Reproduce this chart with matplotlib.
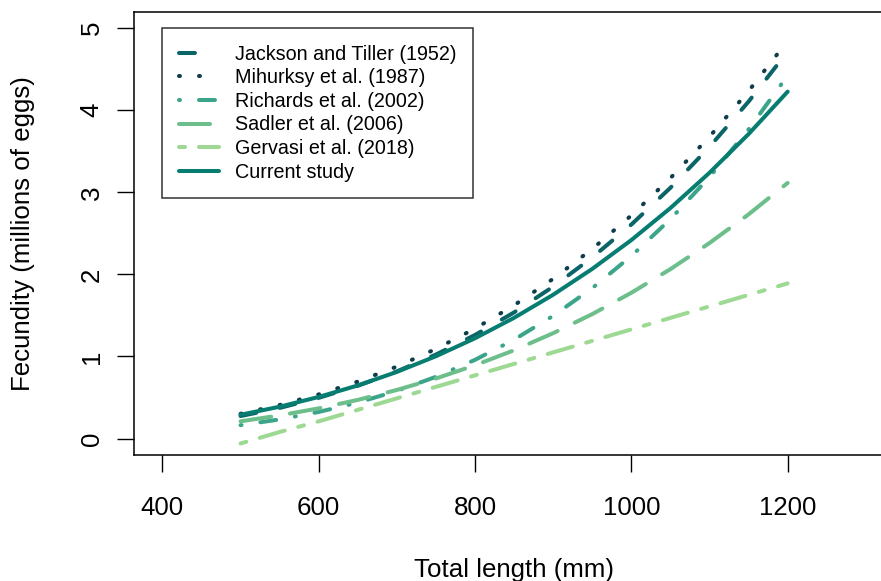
import matplotlib
matplotlib.use("Agg")
import matplotlib.pyplot as plt
import numpy as np

# =============================================================================
# data (fecundity in millions of eggs)
# =============================================================================
length_mm = [500, 550, 600, 650, 700, 750, 800, 850, 900, 950, 1000, 1050, 1100, 1150, 1200]

jackson = [0.274, 0.373, 0.496, 0.643, 0.818, 1.023, 1.262, 1.537, 1.851, 2.206,
           2.607, 3.055, 3.553, 4.105, 4.714]
mihursky = [0.302, 0.409, 0.538, 0.694, 0.877, 1.092, 1.340, 1.624, 1.946, 2.310,
            2.718, 3.173, 3.677, 4.233, 4.845]
richards = [0.163, 0.233, 0.324, 0.438, 0.580, 0.752, 0.959, 1.205, 1.495, 1.833,
            2.224, 2.673, 3.185, 3.766, 4.422]
sadler = [0.210, 0.282, 0.368, 0.471, 0.592, 0.732, 0.893, 1.076, 1.284, 1.516,
          1.776, 2.064, 2.382, 2.731, 3.114]
gervasi = [-0.06, 0.08, 0.21, 0.35, 0.49, 0.63, 0.77, 0.91, 1.05, 1.19,
           1.33, 1.47, 1.61, 1.75, 1.89]
current = [0.290, 0.388, 0.507, 0.647, 0.812, 1.003, 1.222, 1.471, 1.752, 2.067,
           2.418, 2.808, 3.238, 3.709, 4.226]

labels = ["Jackson and Tiller (1952)", "Mihurksy et al. (1987)", "Richards et al. (2002)",
          "Sadler et al. (2006)", "Gervasi et al. (2018)", "Current study"]
xticks = [400, 600, 800, 1000, 1200]
yticks = [0, 1, 2, 3, 4, 5]

# =============================================================================
# style
# =============================================================================
plt.rcParams['font.family'] = ['Liberation Sans', 'DejaVu Sans']
plt.rcParams['lines.scale_dashes'] = False

colors = ['#0b6467', '#0d3d4b', '#3ba58a', '#6cbf8b', '#9dd993', '#077d72']
# R lty 2,3,4,5,6 and solid, in points
styles = [(0, (11.5, 17.3)),
          (0, (0.7, 13.7)),
          (0, (0.7, 13.7, 11.5, 13.7)),
          (0, (22.3, 13.7)),
          (0, (4.3, 10.1, 18.7, 10.1)),
          '-']
lw = 2.9

fig = plt.figure(figsize=(8.81, 5.81), dpi=100)
ax = fig.add_axes([0.1524, 0.2169, 0.8623, 0.7630])

series = [jackson, mihursky, richards, sadler, gervasi, current]
for ys, col, ls, lab in zip(series, colors, styles, labels):
    ax.plot(length_mm, ys, color=col, linestyle=ls, linewidth=lw,
            dash_capstyle='round', solid_capstyle='round', label=lab)

ax.set_xlim(364, 1336)
ax.set_ylim(-0.2, 5.2)
ax.set_xticks(xticks)
ax.set_yticks(yticks)
ax.tick_params(axis='both', length=12, width=1, labelsize=18.6, direction='out')
ax.tick_params(axis='x', pad=17.5)
ax.tick_params(axis='y', pad=10)
for t in ax.get_yticklabels():
    t.set_rotation(90)
    t.set_va('center')
    t.set_ha('right')
for s in ax.spines.values():
    s.set_linewidth(1.1)

ax.set_xlabel('Total length (mm)', fontsize=18.6)
ax.set_ylabel('Fecundity (millions of eggs)', fontsize=18.6)
ax.xaxis.set_label_coords(0.5, -0.233)
ax.yaxis.set_label_coords(-0.131, 0.5)

leg = ax.legend(loc='upper left', bbox_to_anchor=(400, 5), bbox_transform=ax.transData,
                borderaxespad=0, fontsize=14.2, frameon=True, fancybox=False,
                edgecolor='black', handlelength=2.03, handletextpad=0.78,
                borderpad=0.85, labelspacing=0.23)
leg.get_frame().set_linewidth(1.1)

plt.savefig('out.png', dpi=100)
